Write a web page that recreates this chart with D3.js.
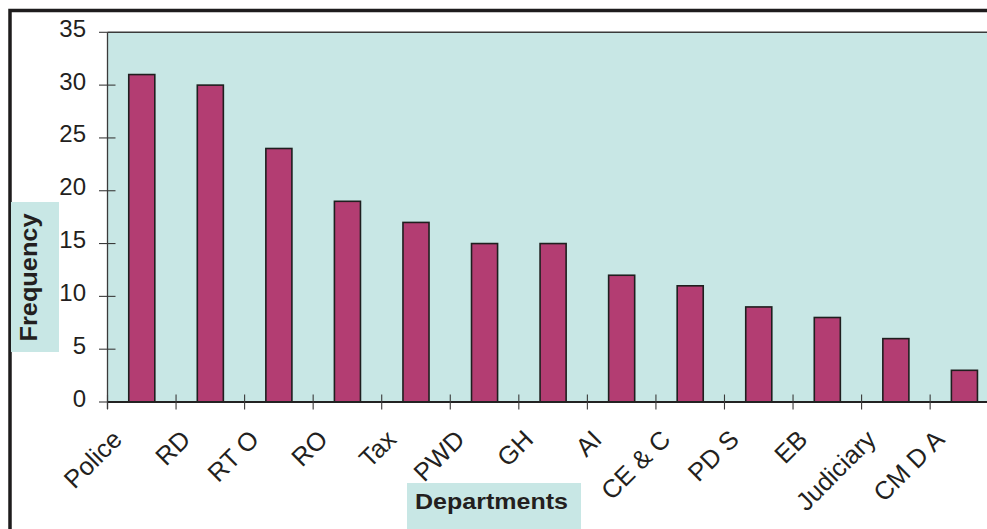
<!DOCTYPE html>
<html>
<head>
<meta charset="utf-8">
<script src="https://cdn.jsdelivr.net/npm/d3@7/dist/d3.min.js"></script>
<style>
  html, body { margin: 0; padding: 0; background: #ffffff; overflow: hidden; }
  svg { display: block; font-family: "Liberation Sans", Arial, Helvetica, sans-serif; }
</style>
</head>
<body>
<svg id="chart" width="987" height="529"></svg>
<script>
// Complaint frequency by department
const departments = ["Police", "RD", "RT O", "RO", "Tax", "PWD", "GH", "AI",
                     "CE & C", "PD S", "EB", "Judiciary", "CM D A"];
const frequency = [31, 30, 24, 19, 17, 15, 15, 12, 11, 9, 8, 6, 3];
const yTicks = [0, 5, 10, 15, 20, 25, 30, 35];

const svg = d3.select("#chart");
const ink = "#231f20";

const plot = { left: 107.5, top: 32.3, bottom: 402, right: 998.7 };

const x = d3.scaleBand()
  .domain(departments)
  .range([plot.left, plot.right])
  .paddingInner(0.62)
  .paddingOuter(0.31);

const y = d3.scaleLinear()
  .domain([0, 35])
  .range([plot.bottom, plot.top]);

// Left edge of each category slot (where the boundary ticks sit)
const slotStart = d => x(d) - x.step() * 0.31;

// Outer frame
svg.append("rect")
  .attr("x", 10).attr("y", 10.5)
  .attr("width", 1020).attr("height", 560)
  .attr("fill", "none")
  .attr("stroke", "#1e1c1d")
  .attr("stroke-width", 3.5);

// Plot background
svg.append("rect")
  .attr("x", plot.left).attr("y", plot.top)
  .attr("width", plot.right - plot.left)
  .attr("height", plot.bottom - plot.top)
  .attr("fill", "#c8e7e5");

// Top border of the plot area
svg.append("line")
  .attr("x1", plot.left).attr("x2", plot.right)
  .attr("y1", plot.top).attr("y2", plot.top)
  .attr("stroke", "#3a3a3a").attr("stroke-width", 1.5);

// Bars
svg.append("g").selectAll("rect")
  .data(departments)
  .join("rect")
  .attr("x", d => x(d))
  .attr("y", (d, i) => y(frequency[i]))
  .attr("width", x.bandwidth())
  .attr("height", (d, i) => y(0) - y(frequency[i]))
  .attr("fill", "#b33d72")
  .attr("stroke", "#1f1f1f")
  .attr("stroke-width", 1.6);

// Y axis: ticks crossing the axis line
const yAxis = svg.append("g");
yAxis.append("line")
  .attr("x1", plot.left).attr("x2", plot.left)
  .attr("y1", plot.top).attr("y2", plot.bottom + 7)
  .attr("stroke", "#3a3a3a").attr("stroke-width", 1.3);
yAxis.selectAll(".ytick")
  .data(yTicks)
  .join("line")
  .attr("class", "ytick")
  .attr("x1", plot.left - 8.5).attr("x2", d => d === 35 ? plot.left : plot.left + 8)
  .attr("y1", d => y(d)).attr("y2", d => y(d))
  .attr("stroke", "#3a3a3a").attr("stroke-width", 1.1);
yAxis.selectAll(".ylabel")
  .data(yTicks)
  .join("text")
  .attr("class", "ylabel")
  .attr("x", 86)
  .attr("y", d => y(d) + 4.5)
  .attr("text-anchor", "end")
  .attr("font-size", 24)
  .attr("fill", ink)
  .text(d => d);

// X axis baseline and category boundary ticks
const xAxis = svg.append("g");
xAxis.append("line")
  .attr("x1", plot.left).attr("x2", plot.right)
  .attr("y1", plot.bottom).attr("y2", plot.bottom)
  .attr("stroke", "#222").attr("stroke-width", 2);
xAxis.selectAll(".xtick")
  .data(departments)
  .join("line")
  .attr("class", "xtick")
  .attr("x1", slotStart)
  .attr("x2", slotStart)
  .attr("y1", plot.bottom - 7.5).attr("y2", plot.bottom + 7.5)
  .attr("stroke", "#3a3a3a").attr("stroke-width", 1.1);

xAxis.selectAll(".xlabel")
  .data(departments)
  .join("text")
  .attr("class", "xlabel")
  .attr("text-anchor", "end")
  .attr("font-size", 25.5)
  .attr("fill", ink)
  .attr("transform", d => `translate(${slotStart(d) + 16},${441}) rotate(-45)`)
  .text(d => d);

// Axis titles on shaded boxes
svg.append("rect")
  .attr("x", 11).attr("y", 202)
  .attr("width", 48).attr("height", 150)
  .attr("fill", "#c8e7e5");
svg.append("text")
  .attr("transform", "translate(36.5,277.5) rotate(-90)")
  .attr("text-anchor", "middle")
  .attr("font-size", 23)
  .attr("font-weight", "bold")
  .attr("fill", ink)
  .attr("textLength", 128)
  .attr("lengthAdjust", "spacingAndGlyphs")
  .text("Frequency");

svg.append("rect")
  .attr("x", 407).attr("y", 483)
  .attr("width", 174).attr("height", 50)
  .attr("fill", "#c8e7e5");
svg.append("text")
  .attr("x", 491.5).attr("y", 508.5)
  .attr("text-anchor", "middle")
  .attr("font-size", 21.5)
  .attr("font-weight", "bold")
  .attr("fill", ink)
  .attr("textLength", 153)
  .attr("lengthAdjust", "spacingAndGlyphs")
  .text("Departments");
</script>
</body>
</html>
